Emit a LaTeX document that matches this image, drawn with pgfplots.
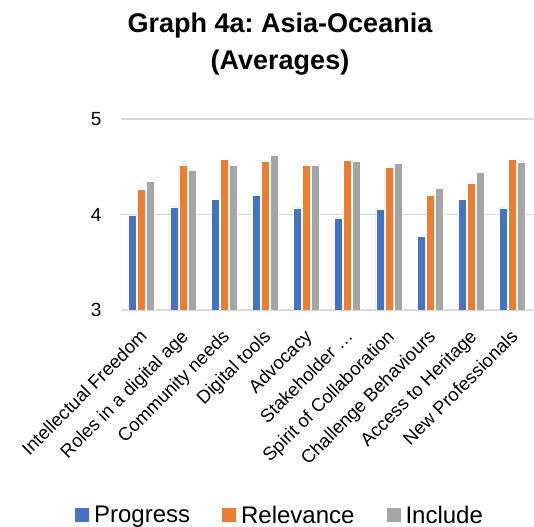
\documentclass[border=0pt]{standalone}
\usepackage{pgfplots}
\pgfplotsset{compat=1.18}
\usepackage{pgfplotstable}
\usepackage{fontspec}
\setmainfont{Liberation Sans}
\newfontfamily\titlefont{Liberation Sans}

\definecolor{cProg}{HTML}{4472C4}
\definecolor{cRel}{HTML}{ED7D31}
\definecolor{cInc}{HTML}{A5A5A5}
\definecolor{gridgray}{HTML}{D9D9D9}

% averages per competency: progress, relevance, include
\pgfplotstableread{
x prog rel inc
0 3.99 4.26 4.35
1 4.08 4.52 4.46
2 4.16 4.58 4.52
3 4.20 4.56 4.62
4 4.07 4.52 4.52
5 3.955 4.57 4.56
6 4.05 4.49 4.54
7 3.77 4.20 4.27
8 4.16 4.33 4.44
9 4.07 4.58 4.55
}\datatable

\begin{document}
\frenchspacing
\begin{tikzpicture}
\path[use as bounding box] (0bp,0bp) rectangle (534bp,527bp);
\begin{axis}[
    at={(121bp,217bp)}, anchor=south west,
    scale only axis, width=412bp, height=191bp,
    ymin=3, ymax=5, xmin=-0.5, xmax=9.5,
    ybar=1bp, bar width=8bp,
    axis line style={draw=none},
    ymajorgrids, grid style={color=gridgray, line width=1.3bp},
    ytick={3,4,5},
    xtick={0,...,9},
    xticklabels={Intellectual Freedom, Roles in a digital age, Community needs,
        Digital tools, Advocacy, Stakeholder …, Spirit of Collaboration,
        Challenge Behaviours, Access to Heritage, New Professionals},
    major tick length=0pt,
    /pgf/number format/assume math mode=true,
    yticklabel style={font=\fontsize{19bp}{22bp}\selectfont, xshift=-16bp},
    xticklabel style={font=\fontsize{18.5bp}{21bp}\selectfont, yshift=-18bp, xshift=-3bp, rotate=45, anchor=north east, inner sep=0pt},
    legend style={at={(0.386,-1.075)}, anchor=center, legend columns=3, draw=none,
        font=\fontsize{24bp}{28bp}\selectfont,
        /tikz/every odd column/.append style={column sep=3bp},
        /tikz/every even column/.append style={column sep=30bp}},
    legend image code/.code={\fill[#1,draw=none] (0bp,-7bp) rectangle (14bp,7bp);},
]
\addplot[fill=cProg, draw=white, line width=0.6bp] table[x=x, y=prog] {\datatable};
\addlegendentry{Progress}
\addplot[fill=cRel, draw=white, line width=0.6bp] table[x=x, y=rel] {\datatable};
\addlegendentry{Relevance}
\addplot[fill=cInc, draw=white, line width=0.6bp] table[x=x, y=inc] {\datatable};
\addlegendentry{Include}
\end{axis}
\node[anchor=base, font=\titlefont\bfseries\fontsize{27bp}{32bp}\selectfont] at (280bp,494bp) {Graph 4a: Asia-Oceania};
\node[anchor=base, font=\titlefont\bfseries\fontsize{27bp}{32bp}\selectfont] at (280bp,457bp) {(Averages)};
\end{tikzpicture}
\end{document}
